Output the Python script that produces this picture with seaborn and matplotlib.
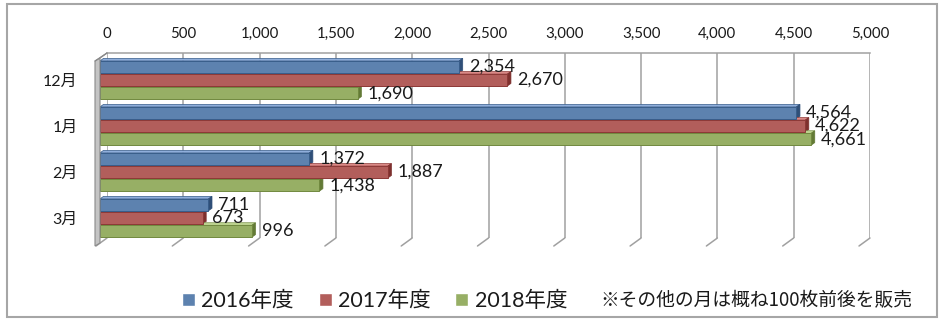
import matplotlib
matplotlib.use("Agg")
import matplotlib.pyplot as plt
import pandas as pd
import seaborn as sns
from matplotlib.patches import Polygon, Rectangle
from matplotlib.lines import Line2D
from matplotlib.transforms import IdentityTransform
from matplotlib.ticker import FuncFormatter

# ---- data -------------------------------------------------------------
months = ["12月", "1月", "2月", "3月"]
series = ["2016年度", "2017年度", "2018年度"]
fy2016 = [2354, 4564, 1372, 711]
fy2017 = [2670, 4622, 1887, 673]
fy2018 = [1690, 4661, 1438, 996]
x_ticks = [0, 500, 1000, 1500, 2000, 2500, 3000, 3500, 4000, 4500, 5000]
note = "※その他の月は概ね100枚前後を販売"

df = pd.DataFrame({
    "month": months * 3,
    "year": [series[0]] * 4 + [series[1]] * 4 + [series[2]] * 4,
    "count": fy2016 + fy2017 + fy2018,
})

# ---- style ------------------------------------------------------------
front_c = ["#4F81BD", "#C0504D", "#9BBB59"]
edge_c = ["#385D8A", "#8C3836", "#71893F"]
top_c = ["#8FAEDB", "#DA8A87", "#C3D996"]
end_c = ["#2F4F78", "#7E302E", "#637A36"]
grid_c = "#A0A0A0"

sns.set_theme(style="white")
plt.rcParams["font.family"] = ["Lato", "Noto Sans CJK JP"]
plt.rcParams["text.color"] = "#1A1A1A"

W, H = 940, 322
fig = plt.figure(figsize=(W / 100, H / 100), dpi=100)
fig.patch.set_facecolor("white")


def rect(l, t, r, b):
    return [l / W, 1 - b / H, (r - l) / W, (b - t) / H]


# back wall: gridlines and value scale on top
back = fig.add_axes(rect(107, 53, 870, 238))
back.set_zorder(0)
back.set_xlim(0, 5000)
back.set_ylim(0, 1)
back.set_xticks(x_ticks)
back.xaxis.set_major_formatter(FuncFormatter(lambda v, p: f"{v:,.0f}"))
back.xaxis.tick_top()
back.set_yticks([])
back.grid(axis="x", color=grid_c, lw=1.1)
back.tick_params(axis="x", length=0, pad=9, labelsize=10.8, labelcolor="#1A1A1A")
for s in ["left", "bottom", "right"]:
    back.spines[s].set_visible(False)
back.spines["top"].set_color(grid_c)
back.spines["top"].set_linewidth(1.1)
back.set_facecolor("white")

# front plane: the bars
ax = fig.add_axes(rect(100, 57, 863, 241))
ax.set_zorder(2)
ax.patch.set_alpha(0)
sns.barplot(data=df, y="month", x="count", hue="year", order=months,
            hue_order=series, palette=front_c, orient="h", width=0.86,
            gap=0.1, ax=ax, legend=True)
ax.set_xlim(0, 5000)
ax.set_ylim(3.5, -0.5)
ax.set_xlabel("")
ax.set_ylabel("")
ax.set_xticks([])
ax.tick_params(axis="y", length=0, pad=16, labelsize=11.5, labelcolor="#1A1A1A")
for s in ax.spines.values():
    s.set_visible(False)

handles, labels = ax.get_legend_handles_labels()
ax.get_legend().remove()

dx, dy = 3.5, 2.5
for i, cont in enumerate(ax.containers):
    for p in cont:
        p.set_edgecolor(edge_c[i])
        p.set_linewidth(0.7)
        x0, y0 = p.get_x(), p.get_y()
        x1, y1 = x0 + p.get_width(), y0 + p.get_height()
        (X0, Ya), (X1, Yb) = ax.transData.transform([(x0, y0), (x1, y1)])
        Yt, Ybot = max(Ya, Yb), min(Ya, Yb)
        top = Polygon([(X0, Yt), (X1, Yt), (X1 + dx, Yt + dy), (X0 + dx, Yt + dy)],
                      closed=True, transform=IdentityTransform(),
                      facecolor=top_c[i], edgecolor=edge_c[i], lw=0.5, zorder=1)
        end = Polygon([(X1, Ybot), (X1, Yt), (X1 + dx, Yt + dy), (X1 + dx, Ybot + dy)],
                      closed=True, transform=IdentityTransform(),
                      facecolor=end_c[i], edgecolor=end_c[i], lw=0.5, zorder=1)
        fig.add_artist(top)
        fig.add_artist(end)
    ax.bar_label(cont, fmt="{:,.0f}", padding=7, fontsize=13, color="#1A1A1A")

# floor edges running from the back wall to the front
for v in x_ticks:
    Xb, Yb = back.transData.transform((v, 0))
    fig.add_artist(Line2D([Xb, Xb - 11], [Yb, Yb - 8], transform=IdentityTransform(),
                          color=grid_c, lw=1.1, zorder=1))

# left side wall
def px(x, y):
    return (x, H - y)

wall = Polygon([px(95, 61), px(100, 58), px(100, 243), px(95, 246)], closed=True,
               transform=IdentityTransform(), facecolor="#C4C4C4",
               edgecolor="#8A8A8A", lw=0.8, zorder=3)
fig.add_artist(wall)
fig.add_artist(Line2D([95, 107], [H - 61, H - 53], transform=IdentityTransform(),
                      color="#8A8A8A", lw=0.9, zorder=3))
fig.add_artist(Line2D([100, 107], [H - 58, H - 53], transform=IdentityTransform(),
                      color="#8A8A8A", lw=0.9, zorder=3))

# legend and note
fig.legend(handles, labels, loc="center left", bbox_to_anchor=(182 / W, 1 - 301 / H),
           ncol=3, frameon=False, fontsize=15.5, handlelength=0.6,
           handleheight=0.6, handletextpad=0.3, columnspacing=1.15,
           borderpad=0, borderaxespad=0)
fig.text(600 / W, 1 - 301 / H, note, fontsize=13.5, va="center", ha="left",
         family=["Noto Sans CJK JP"])

# chart frame
fig.add_artist(Rectangle((7, H - 317), 930, 313, transform=IdentityTransform(),
                         fill=False, edgecolor="#A6A6A6", lw=1.5, zorder=5))

fig.savefig("out.png", dpi=100)
